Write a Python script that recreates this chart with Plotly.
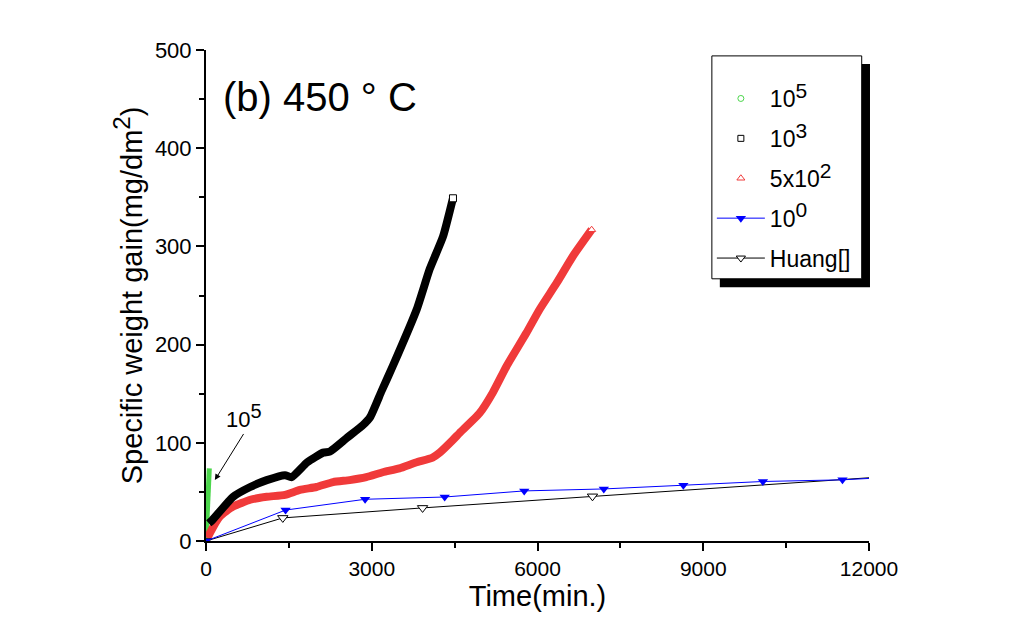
import plotly.graph_objects as go

# ---------------- data ----------------
green_t = [0, 60]
green_y = [0, 74]

black_t = [50, 110, 490, 800, 1100, 1430, 1550, 1830, 2120, 2240, 2550, 2840, 2970,
           3180, 3380, 3815, 4050, 4290, 4470]
black_y = [18, 21, 45, 55, 62, 67, 65, 80, 90, 91, 105, 118, 126,
           153, 178, 236, 277, 310, 349]

red_t = [30, 70, 250, 490, 800, 1100, 1430, 1700, 2000, 2300, 2600, 2900, 3200, 3500,
         3800, 4100, 4230, 4470, 4590, 4950, 5190, 5440, 5800, 6040, 6350, 6640, 6980]
red_y = [3, 8, 25, 35, 42, 45, 47, 52, 55, 60, 62, 65, 70, 74,
         80, 85, 90, 103, 110, 130, 151, 178, 212, 236, 263, 290, 317]

blue_t = [0, 1440, 2880, 4320, 5760, 7200, 8640, 10080, 11520, 12960]
blue_y = [0, 31.5, 42.5, 44.8, 51, 53, 56.8, 60.6, 62.3, 66.5]

huang_t = [0, 1390, 3920, 6995, 13000]
huang_y = [0, 23.5, 33.7, 45.5, 68.2]


def sup(base, exp, size):
    return f"{base}<sup><span style='font-size:{size}px'>{exp}</span></sup>"


LEG_FS = 23
series_names = [sup("10", "5", 21), sup("10", "3", 21), sup("5x10", "2", 21),
                sup("10", "0", 21), "Huang[]"]

x_ticks = [0, 3000, 6000, 9000, 12000]
x_ticktext = ["0", "3000", "6000", "9000", "12000"]
y_ticks = [0, 100, 200, 300, 400, 500]
y_ticktext = ["0", "100", "200", "300", "400", "500"]

GREEN = "#4cd64c"
RED = "#f03a3a"
BLUE = "#0000ff"
FONT = "Liberation Sans, Arial, sans-serif"

fig = go.Figure()

# dense measured series drawn as thick bands
fig.add_trace(go.Scatter(x=green_t, y=green_y, mode="lines",
                         line=dict(color=GREEN, width=5), showlegend=False))
fig.add_trace(go.Scatter(x=red_t, y=red_y, mode="lines",
                         line=dict(color=RED, width=8, shape="spline", smoothing=0.5),
                         showlegend=False))
fig.add_trace(go.Scatter(x=red_t[-1:], y=red_y[-1:], mode="markers",
                         marker=dict(symbol="triangle-up", size=7, color="white",
                                     line=dict(color=RED, width=1)), showlegend=False))
fig.add_trace(go.Scatter(x=black_t, y=black_y, mode="lines",
                         line=dict(color="black", width=8, shape="spline", smoothing=0.5),
                         showlegend=False))
fig.add_trace(go.Scatter(x=black_t[-1:], y=black_y[-1:], mode="markers",
                         marker=dict(symbol="square", size=7, color="white",
                                     line=dict(color="black", width=1)), showlegend=False))

fig.add_trace(go.Scatter(x=huang_t, y=huang_y, mode="lines+markers",
                         line=dict(color="black", width=1),
                         marker=dict(symbol="triangle-down", size=9, color="white",
                                     line=dict(color="black", width=1)),
                         showlegend=False))
fig.add_trace(go.Scatter(x=blue_t, y=blue_y, mode="lines+markers",
                         line=dict(color=BLUE, width=1),
                         marker=dict(symbol="triangle-down", size=9, color=BLUE),
                         showlegend=False))

# legend entries
leg_specs = [
    dict(mode="markers", marker=dict(symbol="circle-open", size=6, color=GREEN)),
    dict(mode="markers", marker=dict(symbol="square-open", size=6, color="black")),
    dict(mode="markers", marker=dict(symbol="triangle-up-open", size=7, color=RED)),
    dict(mode="lines+markers", line=dict(color=BLUE, width=1),
         marker=dict(symbol="triangle-down", size=9, color=BLUE)),
    dict(mode="lines+markers", line=dict(color="black", width=1),
         marker=dict(symbol="triangle-down", size=8, color="white",
                     line=dict(color="black", width=1))),
]
for i, (nm, spec) in enumerate(zip(series_names, leg_specs)):
    fig.add_trace(go.Scatter(x=[None], y=[None], name=nm, legendgroup=f"g{i}",
                             showlegend=True, **spec))

axis_common = dict(showgrid=False, zeroline=False, showline=True, linecolor="black",
                   linewidth=2, tickcolor="black", tickwidth=2)

fig.update_layout(
    width=1009, height=644,
    margin=dict(l=198, r=148, t=42, b=111),
    paper_bgcolor="white", plot_bgcolor="white",
    font=dict(family=FONT, color="black"),
    xaxis=dict(range=[0, 12000], tickvals=x_ticks, ticktext=x_ticktext,
               ticks="outside", ticklen=8,
               tickfont=dict(family=FONT, size=21, color="black"),
               minor=dict(dtick=1500, ticks="outside", ticklen=5, tickwidth=2, tickcolor="black"),
               title=dict(text="Time(min.)", font=dict(family=FONT, size=29), standoff=4),
               **axis_common),
    yaxis=dict(range=[0, 500], tickvals=y_ticks, ticktext=y_ticktext,
               ticks="outside", ticklen=8,
               tickfont=dict(family=FONT, size=22, color="black"),
               minor=dict(dtick=50, ticks="outside", ticklen=5, tickwidth=2, tickcolor="black"),
               title=dict(text="Specific weight gain(mg/dm" + sup("", "2", 24) + ")",
                          font=dict(family=FONT, size=29), standoff=4),
               **axis_common),
    xaxis2=dict(range=[0, 12000], overlaying="x", side="top", tickvals=x_ticks,
                ticks="inside", ticklen=8, showticklabels=False,
                minor=dict(dtick=1500, ticks="inside", ticklen=5, tickwidth=2, tickcolor="black"),
                **axis_common),
    yaxis2=dict(range=[0, 500], overlaying="y", side="right", tickvals=y_ticks,
                ticks="inside", ticklen=8, showticklabels=False,
                minor=dict(dtick=50, ticks="inside", ticklen=5, tickwidth=2, tickcolor="black"),
                **axis_common),
    legend=dict(x=0.763, y=0.945, xanchor="left", yanchor="top",
                bgcolor="rgba(0,0,0,0)", borderwidth=0,
                font=dict(family=FONT, size=LEG_FS, color="black"),
                itemwidth=48, tracegroupgap=7, traceorder="grouped"),
    showlegend=True,
)

# legend box with shadow
fig.add_shape(type="rect", xref="paper", yref="paper", x0=0.775, x1=1.0015, y0=0.517, y1=0.9715,
              fillcolor="black", line=dict(width=0), layer="above")
fig.add_shape(type="rect", xref="paper", yref="paper", x0=0.763, x1=0.989, y0=0.534, y1=0.988,
              fillcolor="white", line=dict(color="black", width=1), layer="above")

# panel label
fig.add_annotation(xref="paper", yref="paper", x=0.022, y=0.905, xanchor="left", yanchor="middle",
                   text="(b) 450 ° C", showarrow=False,
                   font=dict(family=FONT, size=40, color="black"))

# arrow pointing at the 10^5 series
fig.add_annotation(x=green_t[-1] + 100, y=62, xref="x", yref="y",
                   ax=680, ay=109, axref="x", ayref="y",
                   text=sup("10", "5", 20), showarrow=True, arrowhead=2, arrowsize=1.2,
                   arrowwidth=1, arrowcolor="black", yanchor="bottom", xanchor="center",
                   font=dict(family=FONT, size=22, color="black"))

fig.write_html("out.html")
